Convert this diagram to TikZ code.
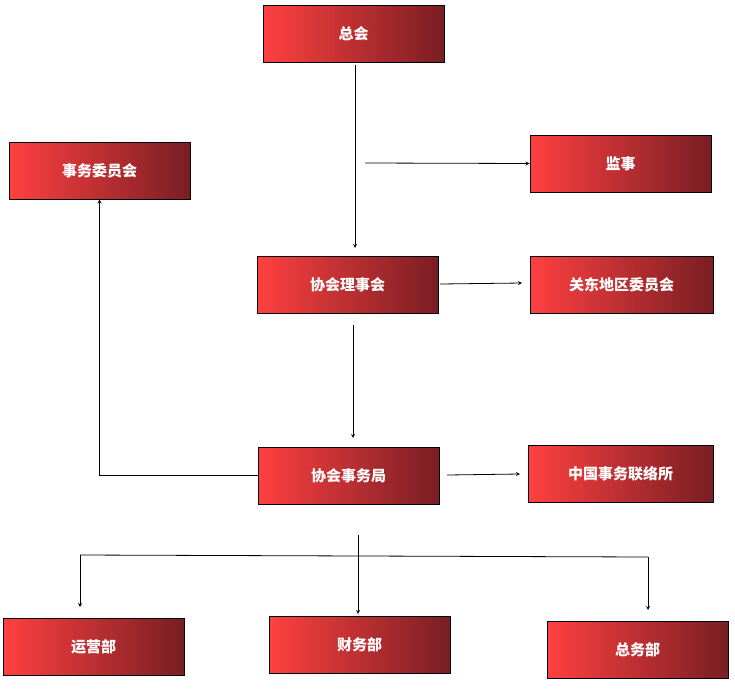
\documentclass[tikz,border=0pt]{standalone}
\usepackage{fontspec}
\newfontfamily\cjk{Noto Sans CJK SC}
\usetikzlibrary{positioning}
\definecolor{boxl}{RGB}{255,64,64}
\definecolor{boxr}{RGB}{120,30,35}
\tikzstyle{box} = [rectangle, draw=black, thick, left color=boxl, right color=boxr,
    minimum width=181pt, minimum height=57pt, text=white, font=\cjk\bfseries\fontsize{15}{15}\selectfont]
\tikzstyle{arrow} = [thick,->,>=stealth]
\begin{document}
\begin{tikzpicture}[x=1pt,y=-1pt]
\useasboundingbox (0,0) rectangle (735,699);

\node (zonghui) [box] at (353.5,33.5) {总会};
\node (shiwuwei) [box] at (99.5,170.5) {事务委员会};
\node (jianshi) [box] at (620.5,163.5) {监事};
\node (lishi) [box] at (347.5,285) {协会理事会};
\node (guandong) [box, minimum width=183pt] at (621.5,284.5) {关东地区委员会};
\node (shiwuju) [box] at (348.5,475.5) {协会事务局};
\node (zhongguo) [box, minimum width=185pt] at (620.5,473.5) {中国事务联络所};
\node (yunying) [box] at (93.5,647) {运营部};
\node (caiwu) [box] at (359.5,644.5) {财务部};
\node (zongwu) [box] at (637.5,649.5) {总务部};
\coordinate (c1) at (355,65);
\coordinate (c2) at (365,163);
\coordinate (c3) at (440,284);
\coordinate (c4) at (353,325);
\coordinate (c5) at (447,475);
\coordinate (c6) at (358,535);
\coordinate (bl) at (80,555);
\coordinate (br) at (648,557);

\draw [arrow] (c1) -- (355,248);
\draw [arrow] (c2) -- (jianshi.west);
\draw [arrow] (c3) -- (522,283);
\draw [arrow] (c4) -- (353,438);
\draw [arrow] (c5) -- (520,474);
\draw [arrow] (shiwuju.west) -| (shiwuwei.south);
\draw [arrow] (c6) -- (358,614);
\draw [thick] (bl) -- (br);
\draw [arrow] (bl) -- (80,607);
\draw [arrow] (br) -- (648,610);

\end{tikzpicture}
\end{document}
